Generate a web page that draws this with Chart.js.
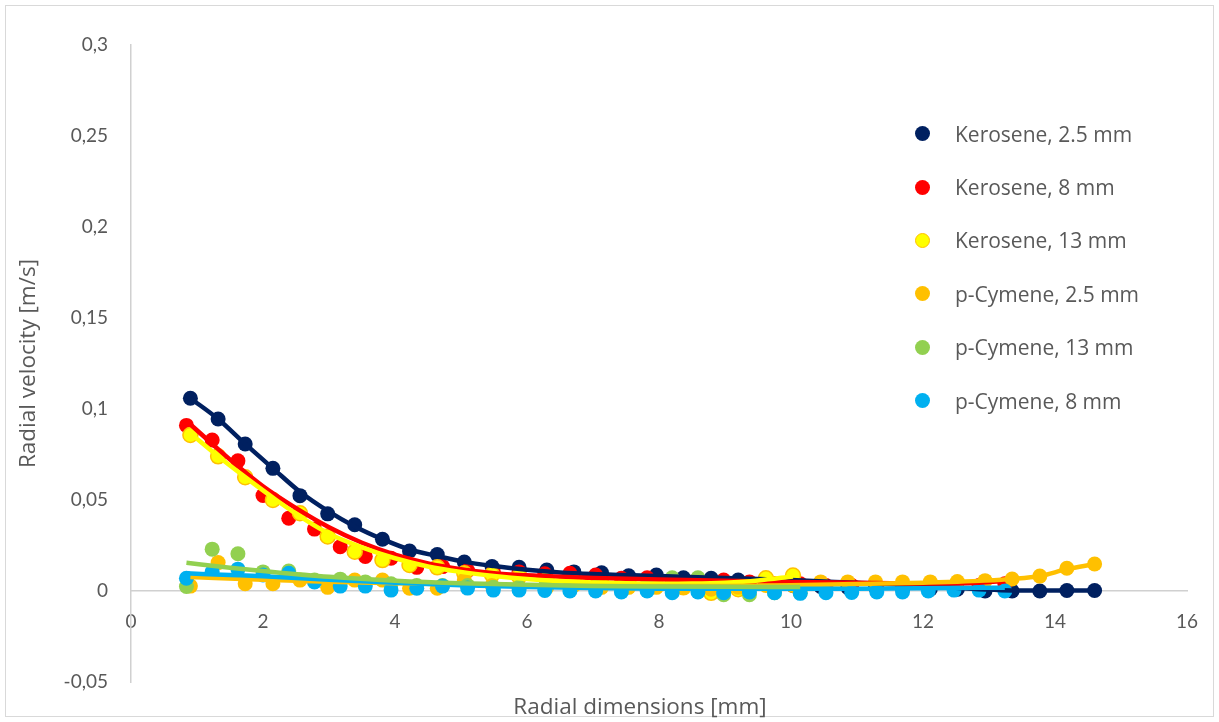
<!DOCTYPE html>
<html lang="en">
<head>
<meta charset="UTF-8">
<title>Radial velocity</title>
<script src="https://cdn.jsdelivr.net/npm/chart.js"></script>
<style>
    body {
        margin: 0;
        padding: 0;
        background: #fff;
        font-family: "Open Sans", Lato, sans-serif;
    }
    .wrap {
        position: relative;
        width: 1219px;
        height: 722px;
        overflow: hidden;
    }
    .frame {
        position: absolute;
        left: 5px;
        top: 5px;
        width: 1207px;
        height: 710px;
        border: 1px solid #d9d9d9;
        pointer-events: none;
    }
    canvas {
        position: absolute;
        left: 0;
        top: 0;
    }
    .xtitle {
        position: absolute;
        left: 440px;
        width: 400px;
        top: 692px;
        text-align: center;
        font-size: 22.5px;
        line-height: 28px;
        color: #595959;
    }
    .legend {
        position: absolute;
        left: 915px;
        top: 107px;
    }
    .legend .row {
        display: flex;
        align-items: center;
        height: 53.4px;
        font-size: 21px;
        color: #595959;
    }
    .legend .dot {
        width: 15px;
        height: 15px;
        border-radius: 50%;
        margin-right: 25px;
        box-sizing: border-box;
    }
</style>
</head>
<body>
<div class="wrap">
    <div class="frame"></div>
    <canvas id="chart" width="1219" height="722"></canvas>
    <div class="xtitle">Radial dimensions [mm]</div>
    <div class="legend" id="legend"></div>
</div>

<script>
    // x positions of the measurements (two different spacings)
    var xA = [0.9, 1.32, 1.73, 2.15, 2.56, 2.98, 3.39, 3.81, 4.22, 4.64, 5.05, 5.47, 5.88, 6.3, 6.71, 7.13, 7.54, 7.96,
              8.37, 8.79, 9.2, 9.62, 10.03, 10.45, 10.86, 11.28, 11.69, 12.11, 12.52, 12.94, 13.35, 13.77, 14.18, 14.6];
    var xB = [0.84, 1.23, 1.62, 2.0, 2.39, 2.78, 3.17, 3.55, 3.94, 4.33, 4.72, 5.1, 5.49, 5.88, 6.27, 6.65, 7.04, 7.43,
              7.82, 8.2, 8.59, 8.98, 9.37, 9.75, 10.14, 10.53, 10.92, 11.3, 11.69, 12.08, 12.47, 12.85, 13.24];

    var labels = ['Kerosene, 2.5 mm', 'Kerosene, 8 mm', 'Kerosene, 13 mm', 'p-Cymene, 2.5 mm', 'p-Cymene, 13 mm', 'p-Cymene, 8 mm'];

    var kero25 = [0.1059, 0.0945, 0.0808, 0.0674, 0.0524, 0.0424, 0.0364, 0.0284, 0.022, 0.02, 0.0159, 0.0134, 0.013, 0.0115,
                  0.0105, 0.01, 0.0084, 0.0088, 0.0073, 0.007, 0.006, 0.004, 0.003, 0.0025, 0.002, 0.002, 0.0015, 0.001,
                  0.001, 0, 0, 0, 0.0003, 0.0003];
    var kero8 = [0.091, 0.083, 0.0715, 0.0525, 0.04, 0.034, 0.0243, 0.019, 0.018, 0.013, 0.0134, 0.0112, 0.0105, 0.0105,
                 0.0095, 0.0097, 0.0088, 0.007, 0.0073, 0.006, 0.005, 0.006, 0.005, 0.004, 0.004, 0.003, 0.003, 0.002,
                 0.002, 0.002, 0.002, 0.003, 0.004];
    var kero13 = [0.0857, 0.074, 0.0625, 0.05, 0.0427, 0.03, 0.0216, 0.017, 0.0143, 0.013, 0.0097, 0.009, 0.008, 0.006,
                  0.005, 0.004, 0.004, 0.003, 0.002, -0.001, 0.001, 0.007, 0.0085];
    var cym25 = [0.0027, 0.0156, 0.004, 0.004, 0.006, 0.002, 0.006, 0.006, 0.0015, 0.0015, 0.006, 0.003, 0.002, 0.002,
                 0.003, 0.002, 0.002, 0.002, 0.002, 0.001, 0.002, 0.003, 0.003, 0.005, 0.005, 0.005, 0.005, 0.005,
                 0.0052, 0.0057, 0.0066, 0.0082, 0.0125, 0.0148];
    var cym13 = [0.0025, 0.023, 0.0205, 0.0105, 0.011, 0.006, 0.0065, 0.005, 0.004, 0.003, 0.003, 0.003, 0.002, 0.002,
                 0.002, 0.002, 0.002, 0.002, 0.003, 0.0073, 0.0073, -0.002, -0.002, -0.001, -0.001];
    var cym8 = [0.007, 0.0106, 0.012, 0.0088, 0.0097, 0.005, 0.0027, 0.0027, 0.0005, 0.0015, 0.0027, 0.0016, 0.0005,
                0.0005, 0.0003, 0, 0, -0.0005, 0, -0.001, -0.0005, -0.001, -0.0005, -0.001, -0.0013, -0.001, -0.0008,
                -0.0005, -0.0005, 0, 0.0005, 0.0005, 0];

    // trendlines
    var trendKero25X = [0.9, 1.32, 1.73, 2.15, 2.56, 2.98, 3.39, 3.81, 4.22, 4.64, 5.05, 5.5, 6, 6.5, 7, 8, 9, 10, 11, 12,
                        12.94, 13.35, 13.77, 14.18, 14.6];
    var trendKero25 = [0.1059, 0.0945, 0.0808, 0.0674, 0.0545, 0.044, 0.0355, 0.0285, 0.0228, 0.0192, 0.016, 0.0137,
                       0.0117, 0.0102, 0.0093, 0.0082, 0.0072, 0.006, 0.0045, 0.003, 0.0008, 0.0003, 0.0003, 0.0003, 0.0003];
    var trendKero8X = [0.84, 1.24, 1.62, 2.0, 2.5, 3.0, 3.5, 4.0, 4.5, 5.0, 5.5, 6.0, 6.5, 7.0, 8.0, 9.0, 10.0, 11.0, 12.0,
                       12.7, 13.24];
    var trendKero8 = [0.0935, 0.0805, 0.0685, 0.0575, 0.0455, 0.035, 0.0265, 0.02, 0.0152, 0.012, 0.0098, 0.0086, 0.0078,
                      0.0072, 0.0063, 0.0056, 0.005, 0.0045, 0.0041, 0.0043, 0.0055];
    var trendKero13X = [0.9, 1.32, 1.75, 2.2, 2.6, 3.0, 3.5, 4.0, 4.5, 5.0, 5.5, 6.0, 6.5, 7.0, 7.5, 8.0, 8.5, 9.0, 9.5, 10.03];
    var trendKero13 = [0.0866, 0.074, 0.062, 0.05, 0.04, 0.0315, 0.024, 0.018, 0.0135, 0.0105, 0.0083, 0.0066, 0.0055,
                       0.0047, 0.0042, 0.004, 0.0041, 0.0046, 0.0058, 0.008];
    var trendCym25X = [0.9, 2, 3, 4, 5, 6, 7, 8, 9, 10, 11, 12, 12.52, 12.94, 13.35, 13.77, 14.18, 14.6];
    var trendCym25 = [0.0077, 0.0062, 0.0051, 0.0042, 0.0036, 0.0031, 0.0028, 0.0027, 0.0028, 0.0032, 0.0038, 0.0046,
                      0.0051, 0.0057, 0.0066, 0.0082, 0.012, 0.0148];
    var trendCym13X = [0.84, 1.5, 2, 3, 4, 5, 6, 7, 8, 9, 10.14];
    var trendCym13 = [0.0155, 0.0128, 0.011, 0.0078, 0.0056, 0.0042, 0.0034, 0.0028, 0.0025, 0.0023, 0.0022];
    var trendCym8X = [0.84, 1.5, 2, 3, 4, 5, 6, 7, 8, 9, 10, 11, 12, 13.24];
    var trendCym8 = [0.0097, 0.0088, 0.0081, 0.0062, 0.0045, 0.0032, 0.0022, 0.0016, 0.0013, 0.0012, 0.0012, 0.0013,
                     0.0015, 0.0018];

    var colors = ['#002060', '#ff0000', '#ffff00', '#ffc000', '#92d050', '#00b0f0'];
    var edges = ['#002060', '#ff0000', '#ffc000', '#ffc000', '#92d050', '#00b0f0'];

    function pairs(xs, ys) {
        var out = [];
        for (var i = 0; i < ys.length; i++) out.push({x: xs[i], y: ys[i]});
        return out;
    }

    var series = [
        [xA, kero25, trendKero25X, trendKero25],
        [xB, kero8, trendKero8X, trendKero8],
        [xA, kero13, trendKero13X, trendKero13],
        [xA, cym25, trendCym25X, trendCym25],
        [xB, cym13, trendCym13X, trendCym13],
        [xB, cym8, trendCym8X, trendCym8]
    ];
    var trendOrder = [6, 5, 4, 3, 1, 2];

    var datasets = [];
    series.forEach(function(s, i) {
        datasets.push({
            label: labels[i],
            data: pairs(s[0], s[1]),
            showLine: false,
            backgroundColor: colors[i],
            borderColor: edges[i],
            pointRadius: 7.5,
            pointBorderWidth: i == 2 ? 1.5 : 0,
            order: 20 - i
        });
    });
    series.forEach(function(s, i) {
        datasets.push({
            label: labels[i] + ' trend',
            data: pairs(s[2], s[3]),
            showLine: true,
            borderColor: colors[i],
            borderWidth: 4.5,
            pointRadius: 0,
            tension: 0.4,
            cubicInterpolationMode: 'monotone',
            order: trendOrder[i]
        });
    });

    var tickFont = {family: 'Lato', size: 19};

    new Chart(document.getElementById('chart'), {
        type: 'scatter',
        data: {datasets: datasets},
        options: {
            responsive: false,
            animation: false,
            layout: {padding: {left: 0, right: 32, top: 45, bottom: 40}},
            plugins: {
                legend: {display: false},
                tooltip: {enabled: false}
            },
            scales: {
                x: {
                    type: 'linear',
                    min: 0,
                    max: 16,
                    position: {y: 0},
                    grid: {display: false, drawTicks: false},
                    border: {display: true, color: '#d0d0d0', width: 1.5},
                    ticks: {stepSize: 2, padding: 19, color: '#595959', font: tickFont},
                    afterFit: function(scale) { scale.height = 0; }
                },
                y: {
                    min: -0.05,
                    max: 0.3,
                    grid: {display: false, drawTicks: false},
                    border: {display: true, color: '#d0d0d0', width: 1.5},
                    ticks: {
                        stepSize: 0.05,
                        padding: 23,
                        color: '#595959',
                        font: tickFont,
                        callback: function(v) {
                            return String(Math.round(v * 100) / 100).replace('.', ',');
                        }
                    },
                    title: {
                        display: true,
                        text: 'Radial velocity [m/s]',
                        color: '#595959',
                        font: {family: 'Open Sans', size: 22.5},
                        padding: {top: 15, bottom: 0}
                    },
                    afterFit: function(scale) { scale.width = 131; }
                }
            }
        }
    });

    // legend drawn beside the plot, over the chart area
    var legend = document.getElementById('legend');
    labels.forEach(function(name, i) {
        var row = document.createElement('div');
        row.className = 'row';
        var dot = document.createElement('span');
        dot.className = 'dot';
        dot.style.background = colors[i];
        if (i == 2) dot.style.border = '1.5px solid ' + edges[i];
        row.appendChild(dot);
        row.appendChild(document.createTextNode(name));
        legend.appendChild(row);
    });
</script>
</body>
</html>
